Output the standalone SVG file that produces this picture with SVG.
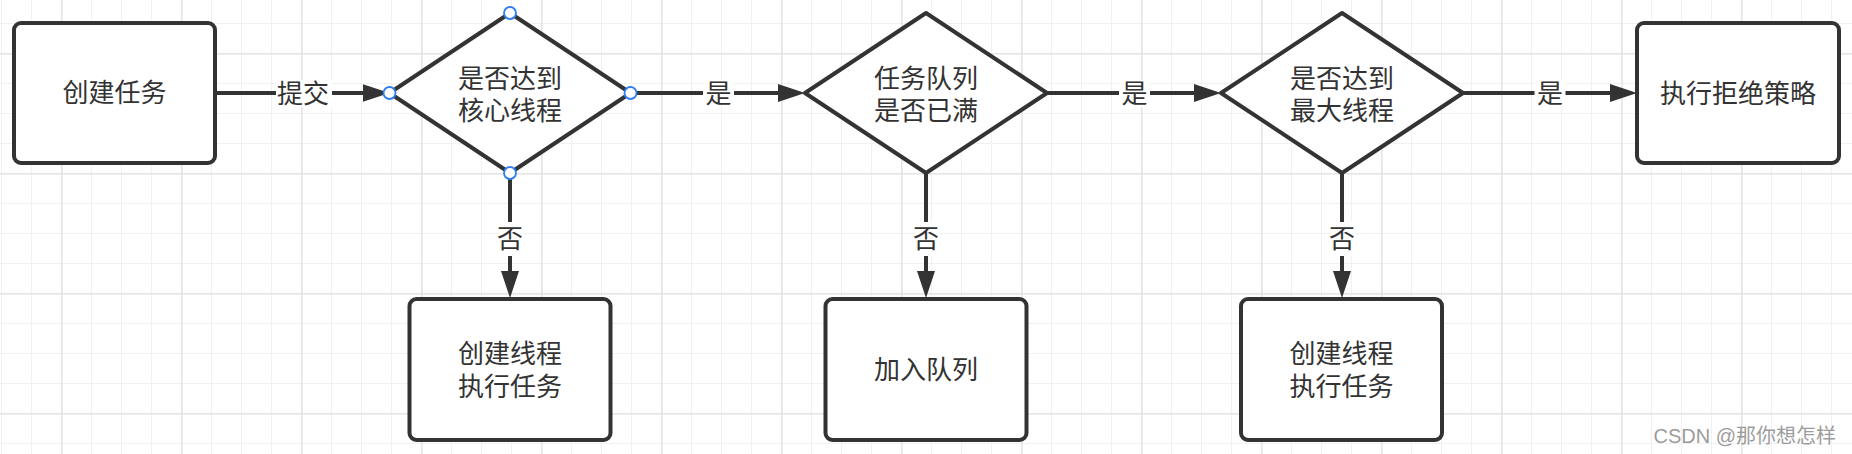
<svg xmlns="http://www.w3.org/2000/svg" width="1852" height="454" viewBox="0 0 1852 454">
<style>
.shape{fill:#ffffff;stroke:#333333;stroke-width:4;stroke-linejoin:round}
.t{font-family:"Noto Sans CJK SC","Microsoft YaHei",sans-serif;font-size:26px;fill:#333333;text-anchor:middle}
.edge{fill:none;stroke:#333333;stroke-width:4}
.lbg{fill:#ffffff}
.handle{fill:#ffffff;stroke:#2f7ef5;stroke-width:1.8}
.wm{font-family:"Liberation Sans","Noto Sans CJK SC",sans-serif;font-size:20px;fill:#9c9c9c;text-anchor:end}
</style>
<defs>
<pattern id="grid" x="61" y="53" width="120" height="120" patternUnits="userSpaceOnUse">
<rect x="30" y="0" width="1" height="120" fill="#f1f1f1"/>
<rect x="60" y="0" width="1" height="120" fill="#f1f1f1"/>
<rect x="90" y="0" width="1" height="120" fill="#f1f1f1"/>
<rect x="0" y="30" width="120" height="1" fill="#f1f1f1"/>
<rect x="0" y="60" width="120" height="1" fill="#f1f1f1"/>
<rect x="0" y="90" width="120" height="1" fill="#f1f1f1"/>
<rect x="0" y="0" width="1.6" height="120" fill="#e5e5e5"/>
<rect x="0" y="0" width="120" height="1.6" fill="#e5e5e5"/>
</pattern>
<marker id="arrow" markerUnits="userSpaceOnUse" markerWidth="28" markerHeight="18" refX="7" refY="9" orient="auto" viewBox="0 0 28 18">
<path d="M0,0 L27,9 L0,18 Z" fill="#333333"/>
</marker>
</defs>
<rect x="0" y="0" width="1852" height="454" fill="#ffffff"/>
<rect x="0" y="0" width="1852" height="454" fill="url(#grid)"/>

<g id="connectors">
<path class="edge" d="M216,93 L369.5,93" marker-end="url(#arrow)"/>
<rect class="lbg" x="276" y="80" width="56" height="27"/>
<text class="t" x="303" y="103">提交</text>

<path class="edge" d="M630.5,93 L785,93" marker-end="url(#arrow)"/>
<rect class="lbg" x="703" y="80" width="31" height="27"/>
<text class="t" x="718.5" y="103">是</text>

<path class="edge" d="M1047,93 L1201,93" marker-end="url(#arrow)"/>
<rect class="lbg" x="1119" y="80" width="31" height="27"/>
<text class="t" x="1134.5" y="103">是</text>

<path class="edge" d="M1463,93 L1617,93" marker-end="url(#arrow)"/>
<rect class="lbg" x="1534.5" y="80" width="31" height="27"/>
<text class="t" x="1550" y="103">是</text>

<path class="edge" d="M510,173 L510,278" marker-end="url(#arrow)"/>
<rect class="lbg" x="497" y="222" width="26" height="34"/>
<text class="t" x="510" y="248">否</text>

<path class="edge" d="M926,173 L926,278" marker-end="url(#arrow)"/>
<rect class="lbg" x="913" y="222" width="26" height="34"/>
<text class="t" x="926" y="248">否</text>

<path class="edge" d="M1342,173 L1342,278" marker-end="url(#arrow)"/>
<rect class="lbg" x="1329" y="222" width="26" height="34"/>
<text class="t" x="1342" y="248">否</text>
</g>

<g id="node-create-task">
<rect class="shape" x="14" y="23" width="201" height="140" rx="7"/>
<text class="t" x="114.5" y="102">创建任务</text>
</g>

<g id="node-core-check">
<path class="shape" d="M510,13 L630.5,93 L510,173 L389.5,93 Z"/>
<text class="t" x="510" y="88"><tspan x="510" y="88">是否达到</tspan><tspan x="510" y="120">核心线程</tspan></text>
<circle class="handle" cx="510" cy="13" r="6"/>
<circle class="handle" cx="630.5" cy="93" r="6"/>
<circle class="handle" cx="510" cy="173" r="6"/>
<circle class="handle" cx="389.5" cy="93" r="6"/>
</g>

<g id="node-queue-check">
<path class="shape" d="M926,13 L1047,93 L926,173 L805,93 Z"/>
<text class="t" x="926" y="88"><tspan x="926" y="88">任务队列</tspan><tspan x="926" y="120">是否已满</tspan></text>
</g>

<g id="node-max-check">
<path class="shape" d="M1342,13 L1463,93 L1342,173 L1221,93 Z"/>
<text class="t" x="1342" y="88"><tspan x="1342" y="88">是否达到</tspan><tspan x="1342" y="120">最大线程</tspan></text>
</g>

<g id="node-reject">
<rect class="shape" x="1637" y="23" width="202" height="140" rx="7"/>
<text class="t" x="1738" y="103">执行拒绝策略</text>
</g>

<g id="node-create-core">
<rect class="shape" x="409.5" y="299" width="201" height="141" rx="7"/>
<text class="t" x="510" y="363"><tspan x="510" y="363">创建线程</tspan><tspan x="510" y="396">执行任务</tspan></text>
</g>

<g id="node-enqueue">
<rect class="shape" x="825.5" y="299" width="201" height="141" rx="7"/>
<text class="t" x="926" y="379">加入队列</text>
</g>

<g id="node-create-max">
<rect class="shape" x="1241" y="299" width="201" height="141" rx="7"/>
<text class="t" x="1341.5" y="363"><tspan x="1341.5" y="363">创建线程</tspan><tspan x="1341.5" y="396">执行任务</tspan></text>
</g>

<text class="wm" x="1836" y="443">CSDN @那你想怎样</text>
</svg>
